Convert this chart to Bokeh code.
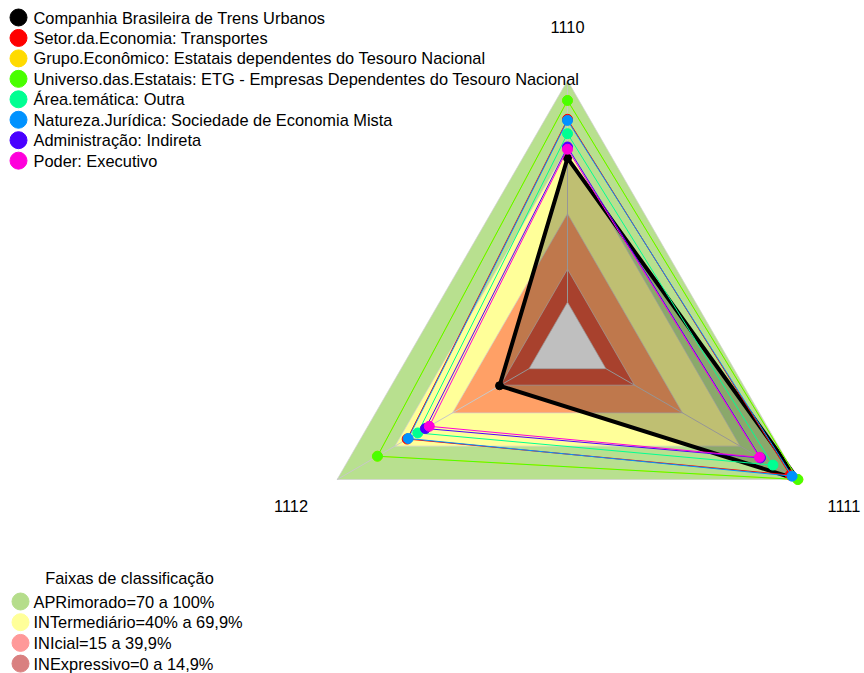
import numpy as np
from bokeh.plotting import figure
from bokeh.models import Range1d
from bokeh.core.properties import value
from bokeh.embed import file_html
from bokeh.resources import INLINE

# ---------------- data ----------------
axis_labels = ["1110", "1111", "1112"]
axis_angles_deg = [90, -30, 210]

series_names = [
    "Companhia Brasileira de Trens Urbanos",
    "Setor.da.Economia: Transportes",
    "Grupo.Econômico: Estatais dependentes do Tesouro Nacional",
    "Universo.das.Estatais: ETG - Empresas Dependentes do Tesouro Nacional",
    "Área.temática: Outra",
    "Natureza.Jurídica: Sociedade de Economia Mista",
    "Administração: Indireta",
    "Poder: Executivo",
]
series_colors = ["#000000", "#FF0000", "#FFDB00", "#49FF00",
                 "#00FF92", "#0092FF", "#4900FF", "#FF00DB"]
values_1110 = [65.0, 82.5, 91.0, 91.0, 76.0, 82.0, 70.0, 69.0]
values_1111 = [100.0, 96.0, 100.0, 100.0, 87.0, 97.0, 80.5, 80.0]
values_1112 = [15.4, 63.5, 79.0, 79.0, 58.0, 63.0, 54.0, 52.0]

band_names = ["APRimorado=70 a 100%", "INTermediário=40% a 69,9%",
              "INIcial=15 a 39,9%", "INExpressivo=0 a 14,9%"]
band_upper = [100.0, 69.9, 39.9, 14.9]
band_legend_colors = ["#B5DD8B", "#FFFF99", "#FF9999", "#D98080"]
band_fill_colors = ["#B8E08F", "#FFFF99", "#FFA066", "#E0573D"]
band_title = "Faixas de classificação"

# ---------------- geometry ----------------
SEG = 5
PX = 266.0            # pixels per radius unit
CX, CY = 567.0, 346.0 # centre in the picture (px)
W, H = 864, 673

def rad(v):
    return (1.0 + SEG * np.asarray(v, dtype=float) / 100.0) / (SEG + 1)

ang = np.deg2rad(axis_angles_deg)

def poly(vals):
    r = rad(vals)
    return list(r * np.cos(ang)), list(r * np.sin(ang))

def pxX(x):
    return (x - CX) / PX

def pxY(y):
    return (CY - y) / PX

p = figure(width=W, height=H, output_backend="svg", toolbar_location=None,
           x_axis_type=None, y_axis_type=None,
           x_range=Range1d(pxX(0), pxX(W)), y_range=Range1d(pxY(H), pxY(0)),
           min_border=0)
p.outline_line_color = None
p.grid.visible = False
p.background_fill_color = "white"

FONT = value("Liberation Sans")
FS = value("16.4px")

# background bands
for vmax, col in zip(band_upper, band_fill_colors):
    xs, ys = poly([vmax] * 3)
    p.patch(xs, ys, fill_color=col, line_color="#D0D0D0", line_width=1, line_alpha=0.7)
xs, ys = poly([0.0] * 3)
p.patch(xs, ys, fill_color="white", line_color="#D0D0D0", line_width=1, line_alpha=0.7)

# spokes
r0, r1 = rad(0.0), rad(100.0)
p.segment(list(r0 * np.cos(ang)), list(r0 * np.sin(ang)),
          list(r1 * np.cos(ang)), list(r1 * np.sin(ang)),
          line_color="#C8C8C8", line_width=1)

# series
for i, (name, col) in enumerate(zip(series_names, series_colors)):
    xs, ys = poly([values_1110[i], values_1111[i], values_1112[i]])
    if i == 0:
        p.patch(xs, ys, fill_color="black", fill_alpha=0.25, line_color=col,
                line_width=4, line_join="round")
        p.scatter(xs, ys, size=8, color=col)
    else:
        p.patch(xs, ys, fill_alpha=0, line_color=col, line_width=1, line_join="round")
        p.scatter(xs, ys, size=10, color=col)

# axis labels
lr = 1.2 * rad(100.0)
p.text(list(lr * np.cos(ang)), list(lr * np.sin(ang)), text=axis_labels,
       text_align="center", text_baseline="middle", text_font=FONT,
       text_font_size=FS, text_color="black")

# top legend (series)
n = len(series_names)
ly = [pxY(17 + 20.45 * k) for k in range(n)]
p.scatter([pxX(18)] * n, ly, size=17, color=series_colors)
p.text([pxX(33)] * n, ly, text=series_names, text_align="left", text_baseline="middle",
       text_font=FONT, text_font_size=FS, text_color="black")

# bottom legend (bands)
p.text([pxX(129)], [pxY(577)], text=[band_title], text_align="center",
       text_baseline="middle", text_font=FONT, text_font_size=FS,
       text_color="black")
m = len(band_names)
by = [pxY(601 + 20.7 * k) for k in range(m)]
p.scatter([pxX(20)] * m, by, size=17, color=band_legend_colors)
p.text([pxX(33)] * m, by, text=band_names, text_align="left", text_baseline="middle",
       text_font=FONT, text_font_size=FS, text_color="black")

open("out.html", "w").write(file_html(p, INLINE))
